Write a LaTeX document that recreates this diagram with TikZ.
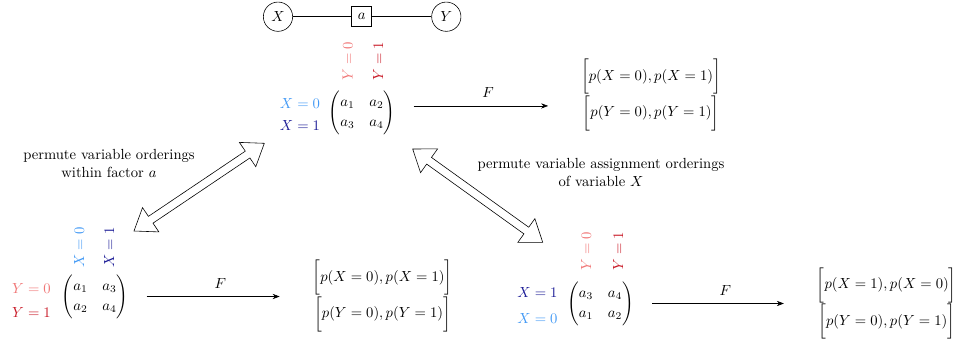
\documentclass[tikz,border=0pt]{standalone}
\usepackage{amsmath}
\usepackage{xcolor}
\usepackage{tikz}
\usetikzlibrary{arrows.meta, shapes.geometric, shapes.arrows, positioning, calc}
\definecolor{xzero}{RGB}{66,153,245}
\definecolor{xone}{RGB}{28,28,150}
\definecolor{yzero}{RGB}{240,118,118}
\definecolor{yone}{RGB}{200,25,38}
\renewcommand{\arraystretch}{1.15}

\begin{document}
\begin{tikzpicture}[
        x=0.683pt, y=-0.683pt,
        varnode/.style={circle, draw, minimum size=20pt, inner sep=0pt},
        facnode/.style={rectangle, draw, minimum size=13.7pt, inner sep=0pt},
        colname/.style={rotate=90},
        farrow/.style={-{Stealth}, shorten <=9pt, shorten >=19pt},
        swaparrow/.style={double arrow, draw, inner xsep=0pt, inner ysep=2.6pt, double arrow head extend=7.2pt, double arrow tip angle=72},
        note/.style={align=center}
    ]
    \useasboundingbox (0,0) rectangle (956,349);

    % factor graph
    \node[varnode] (fgX) at (278,16.7)   {$X$};
    \node[facnode] (fga) at (361.7,16.7) {$a$};
    \node[varnode] (fgY) at (446.3,16.7) {$Y$};
    \draw (fgX) -- (fga) -- (fgY);

    % original table
    \node (topmat) at (362,112.5) {$\begin{pmatrix} a_1 & a_2 \\ a_3 & a_4 \end{pmatrix}$};
    \node[text=xzero] (toprow1) at (300,103.3) {$X=0$};
    \node[text=xone]  (toprow2) at (300,125)   {$X=1$};
    \node[colname, text=yzero] (topcol1) at (347.5,61.5) {$Y=0$};
    \node[colname, text=yone]  (topcol2) at (378,61.5)   {$Y=1$};
    \node[note] (topout) at (651,95) {$\bigg[p(X=0), p(X=1)\bigg]$\\$\bigg[p(Y=0), p(Y=1)\bigg]$};
    \coordinate (topF) at ([yshift=4.5pt]topmat.east);
    \draw[farrow] (topF) -- (topF -| topout.west) node[midway, above=2pt] {$F$};

    % variables swapped
    \node (leftmat) at (95,296.5) {$\begin{pmatrix} a_1 & a_3 \\ a_2 & a_4 \end{pmatrix}$};
    \node[text=yzero] (leftrow1) at (31.5,288)   {$Y=0$};
    \node[text=yone]  (leftrow2) at (31.5,312.6) {$Y=1$};
    \node[colname, text=xzero] (leftcol1) at (79,247.5)  {$X=0$};
    \node[colname, text=xone]  (leftcol2) at (109,247.5) {$X=1$};
    \node[note] (leftout) at (382.5,296) {$\bigg[p(X=0), p(X=1)\bigg]$\\$\bigg[p(Y=0), p(Y=1)\bigg]$};
    \draw[farrow] (leftmat.east) -- (leftmat.east -| leftout.west) node[midway, above=2pt] {$F$};

    % assignments of X swapped
    \node (rightmat) at (600.5,303.5) {$\begin{pmatrix} a_3 & a_4 \\ a_1 & a_2 \end{pmatrix}$};
    \node[text=xone]  (rightrow1) at (537.5,292.7) {$X=1$};
    \node[text=xzero] (rightrow2) at (537.5,318)   {$X=0$};
    \node[colname, text=yzero] (rightcol1) at (586,251) {$Y=0$};
    \node[colname, text=yone]  (rightcol2) at (618,251) {$Y=1$};
    \node[note] (rightout) at (886.7,303.5) {$\bigg[p(X=1), p(X=0)\bigg]$\\$\bigg[p(Y=0), p(Y=1)\bigg]$};
    \draw[farrow] (rightmat.east) -- (rightmat.east -| rightout.west) node[midway, above=2pt] {$F$};

    % permutation arrows
    \coordinate (swapL1) at (134,231);
    \coordinate (swapL2) at (264.3,143.3);
    \coordinate (swapR1) at (412.7,149);
    \coordinate (swapR2) at (542.7,242.3);
    \path (swapL1) -- (swapL2) node[swaparrow, midway, sloped, minimum height=107.3pt] (swapleft) {};
    \path (swapR1) -- (swapR2) node[swaparrow, midway, sloped, minimum height=109.3pt] (swapright) {};

    \node[note] (leftnote)  at (109,163.7) {permute variable orderings\\within factor $a$};
    \node[note] (rightnote) at (601,172.5) {permute variable assignment orderings\\of variable $X$};
\end{tikzpicture}
\end{document}
